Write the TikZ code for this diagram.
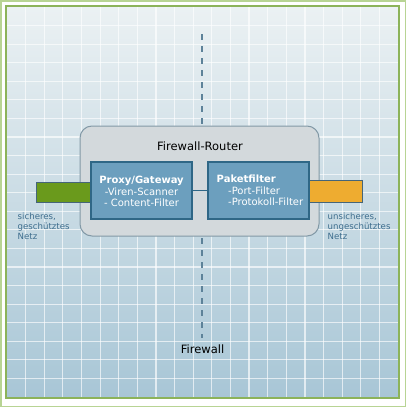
\documentclass[tikz,border=0pt]{standalone}
\usepackage{fontspec}
\setmainfont{DejaVu Sans}
\definecolor{bgtop}{HTML}{EBF1F3}
\definecolor{bgbot}{HTML}{A8C6D6}
\definecolor{framegreen}{HTML}{8CB35A}
\definecolor{outergreen}{HTML}{B8D494}
\definecolor{routerfill}{HTML}{D3D9DC}
\definecolor{routerdraw}{HTML}{8299A6}
\definecolor{boxfill}{HTML}{6C9FBE}
\definecolor{boxdraw}{HTML}{2F6786}
\definecolor{netgreen}{HTML}{6A9A1C}
\definecolor{netorange}{HTML}{EEAC30}
\definecolor{netdraw}{HTML}{456579}
\definecolor{labelblue}{HTML}{3D6D8D}
\definecolor{dashcol}{HTML}{5D8299}
\tikzset{
  routerbox/.style={draw=routerdraw, line width=1pt, fill=routerfill, rounded corners=12pt, inner sep=0pt},
  filterbox/.style={draw=boxdraw, line width=1.2pt, fill=boxfill, inner sep=0pt},
  netbox/.style={draw=netdraw, line width=1pt, inner sep=0pt},
  boxtext/.style={text=white, font=\fontsize{10}{11.7}\selectfont, inner sep=0pt},
  nettext/.style={text=labelblue, font=\fontsize{8.6}{10.2}\selectfont, align=left, anchor=west, inner sep=0pt},
  titletext/.style={text=black, font=\fontsize{11.5}{13}\selectfont, inner sep=0pt},
  gridline/.style={white, opacity=0.65, line width=1.2pt},
  fwline/.style={dashcol, line width=2pt, dash pattern=on 6pt off 6pt},
  linkline/.style={boxdraw, line width=1.6pt}
}
\begin{document}
\begin{tikzpicture}[x=1pt,y=-1pt]
\useasboundingbox (0,0) rectangle (406,407);
% frame
\draw[outergreen, line width=1.5pt, fill=white] (0.75,0.75) rectangle (405.25,406.25);
\shade[top color=bgtop, bottom color=bgbot] (7,7) rectangle (398,397);
\foreach \k in {1,...,20} {
  \draw[gridline] ({7+18.62*\k},7) -- ({7+18.62*\k},397);
  \draw[gridline] (7,{7+18.57*\k}) -- (398,{7+18.57*\k});
}
\draw[framegreen, line width=1.8pt] (6,6) rectangle (399,398);
% firewall dashed line
\coordinate (fwtop) at (202,34);
\coordinate (fwbot) at (202,338);
\draw[fwline] (fwtop) -- (fwbot);
\node[titletext] (fwlabel) at (202.5,349) {Firewall};
% router
\node[routerbox, minimum width=239pt, minimum height=110pt] (router) at (199.5,181) {};
\node[titletext] (rtitle) at (200,146) {Firewall-Router};
% networks
\node[netbox, fill=netgreen, minimum width=55pt, minimum height=20pt] (green) at (63.5,192) {};
\node[netbox, fill=netorange, minimum width=53pt, minimum height=22pt] (orange) at (335.5,191) {};
% filter boxes
\node[filterbox, minimum width=101pt, minimum height=57pt] (proxy) at (141.5,190.5) {};
\node[filterbox, minimum width=101pt, minimum height=57pt] (paket) at (258.5,190.5) {};
\draw[linkline] (proxy.east) -- (paket.west);
\node[boxtext, align=center] (proxytext) at (141.5,191.5) {\textbf{Proxy/Gateway}\\-Viren-Scanner\\- Content-Filter};
\node[boxtext, align=left, anchor=west] (pakettext) at (216.5,190.5) {\textbf{Paketfilter}\\\hspace*{11.5pt}-Port-Filter\\\hspace*{11.5pt}-Protokoll-Filter};
% network labels
\node[nettext] (leftnet) at (17.5,226.5) {sicheres,\\geschütztes\\Netz};
\node[nettext] (rightnet) at (327.5,226.5) {unsicheres,\\ungeschütztes\\Netz};
\end{tikzpicture}
\end{document}
